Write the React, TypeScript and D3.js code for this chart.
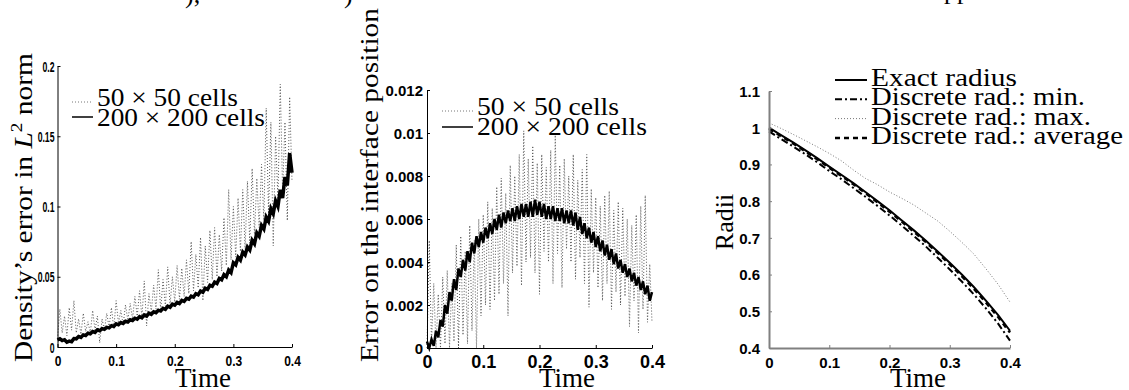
import React, { useRef, useEffect } from "react";
import * as d3 from "d3";

// sampling steps of the stored runs (time between two stored values)
const fineStep = 0.004;
const radStep = 0.02;

// density error in L2 norm
const densityCoarse = [
  0.006, 0.027, 0.010, 0.022, 0.008, 0.028, 0.012, 0.033, 0.010, 0.020,
  0.009, 0.024, 0.011, 0.018, 0.010, 0.026, 0.012, 0.022, 0.003, 0.020,
  0.012, 0.024, 0.014, 0.028, 0.013, 0.033, 0.017, 0.026, 0.016, 0.030,
  0.019, 0.031, 0.020, 0.036, 0.022, 0.040, 0.021, 0.047, 0.015, 0.038,
  0.025, 0.044, 0.027, 0.055, 0.026, 0.048, 0.029, 0.057, 0.030, 0.050,
  0.032, 0.058, 0.034, 0.056, 0.036, 0.062, 0.038, 0.075, 0.040, 0.066,
  0.042, 0.078, 0.033, 0.072, 0.046, 0.083, 0.048, 0.085, 0.050, 0.080,
  0.054, 0.092, 0.058, 0.112, 0.062, 0.100, 0.064, 0.106, 0.068, 0.112,
  0.070, 0.118, 0.074, 0.127, 0.080, 0.120, 0.085, 0.130, 0.090, 0.170,
  0.095, 0.160, 0.072, 0.150, 0.105, 0.187, 0.110, 0.160, 0.090, 0.178,
  0.118,
];
const densityFine = [
  0.0050, 0.0058, 0.0046, 0.0052, 0.0034, 0.0042, 0.0038, 0.0060, 0.0058, 0.0075,
  0.0068, 0.0086, 0.0082, 0.0098, 0.0094, 0.0110, 0.0104, 0.0122, 0.0116, 0.0131,
  0.0126, 0.0140, 0.0136, 0.0152, 0.0146, 0.0165, 0.0158, 0.0174, 0.0168, 0.0183,
  0.0178, 0.0194, 0.0188, 0.0205, 0.0198, 0.0216, 0.0208, 0.0228, 0.0220, 0.0240,
  0.0232, 0.0250, 0.0244, 0.0262, 0.0256, 0.0275, 0.0268, 0.0290, 0.0283, 0.0305,
  0.0298, 0.0318, 0.0310, 0.0332, 0.0325, 0.0346, 0.0340, 0.0362, 0.0355, 0.0380,
  0.0372, 0.0398, 0.0390, 0.0418, 0.0410, 0.0440, 0.0432, 0.0462, 0.0452, 0.0488,
  0.0478, 0.0515, 0.0500, 0.0548, 0.0530, 0.0600, 0.0585, 0.0638, 0.0618, 0.0675,
  0.0655, 0.0712, 0.0690, 0.0760, 0.0735, 0.0812, 0.0788, 0.0865, 0.0840, 0.0925,
  0.0895, 0.0985, 0.0950, 0.1040, 0.1000, 0.1120, 0.1060, 0.1210, 0.1150, 0.1380,
  0.1240,
];

// error on the interface position
const interfaceCoarse = [
  0.0000, 0.0050, 0.0002, 0.0030, 0.0000, 0.0025, 0.0000, 0.0033, 0.0002, 0.0036,
  0.0000, 0.0030, 0.0003, 0.0048, 0.0000, 0.0052, 0.0006, 0.0045, 0.0002, 0.0057,
  0.0008, 0.0050, 0.0000, 0.0060, 0.0015, 0.0062, 0.0020, 0.0068, 0.0018, 0.0065,
  0.0022, 0.0075, 0.0025, 0.0079, 0.0030, 0.0072, 0.0015, 0.0085, 0.0035, 0.0080,
  0.0038, 0.0090, 0.0029, 0.0101, 0.0040, 0.0088, 0.0042, 0.0094, 0.0035, 0.0086,
  0.0025, 0.0090, 0.0045, 0.0084, 0.0040, 0.0092, 0.0030, 0.0099, 0.0044, 0.0085,
  0.0028, 0.0088, 0.0046, 0.0080, 0.0040, 0.0090, 0.0032, 0.0078, 0.0042, 0.0083,
  0.0030, 0.0090, 0.0019, 0.0074, 0.0035, 0.0070, 0.0028, 0.0066, 0.0022, 0.0071,
  0.0030, 0.0073, 0.0018, 0.0064, 0.0026, 0.0068, 0.0020, 0.0065, 0.0024, 0.0060,
  0.0010, 0.0057, 0.0022, 0.0062, 0.0007, 0.0066, 0.0018, 0.0071, 0.0012, 0.0039,
  0.0012,
];
const interfaceFine = [
  0.0003, 0.0000, 0.0004, 0.0001, 0.0008, 0.0005, 0.0013, 0.0010, 0.0020, 0.0016,
  0.0026, 0.0022, 0.0032, 0.0027, 0.0037, 0.0033, 0.0041, 0.0036, 0.0045, 0.0040,
  0.0049, 0.0044, 0.0052, 0.0047, 0.0054, 0.0049, 0.0056, 0.0051, 0.0058, 0.0053,
  0.0060, 0.0055, 0.0062, 0.0056, 0.0063, 0.0058, 0.0064, 0.0059, 0.0065, 0.0059,
  0.0066, 0.0060, 0.0067, 0.0061, 0.0067, 0.0061, 0.0068, 0.0061, 0.0069, 0.0062,
  0.0068, 0.0061, 0.0067, 0.0060, 0.0066, 0.0060, 0.0066, 0.0059, 0.0065, 0.0059,
  0.0065, 0.0058, 0.0064, 0.0058, 0.0064, 0.0057, 0.0063, 0.0055, 0.0061, 0.0053,
  0.0058, 0.0051, 0.0056, 0.0049, 0.0054, 0.0047, 0.0052, 0.0045, 0.0050, 0.0043,
  0.0048, 0.0041, 0.0046, 0.0039, 0.0044, 0.0037, 0.0041, 0.0035, 0.0039, 0.0033,
  0.0037, 0.0031, 0.0035, 0.0029, 0.0033, 0.0027, 0.0031, 0.0025, 0.0029, 0.0022,
  0.0026,
];

// radii
const radiusExact = [1.0, 0.98, 0.96, 0.939, 0.917, 0.894, 0.872, 0.849, 0.825, 0.8, 0.775, 0.748, 0.721, 0.693, 0.663, 0.632, 0.6, 0.566, 0.529, 0.49, 0.447];
const radiusMin = [0.99, 0.969, 0.949, 0.928, 0.906, 0.882, 0.86, 0.836, 0.812, 0.787, 0.761, 0.734, 0.706, 0.677, 0.646, 0.614, 0.581, 0.546, 0.508, 0.467, 0.42];
const radiusMax = [1.013, 0.998, 0.982, 0.965, 0.948, 0.93, 0.91, 0.885, 0.862, 0.845, 0.825, 0.808, 0.79, 0.768, 0.746, 0.718, 0.688, 0.656, 0.616, 0.574, 0.525];
const radiusAvg = [0.997, 0.977, 0.957, 0.936, 0.914, 0.891, 0.869, 0.846, 0.822, 0.797, 0.771, 0.745, 0.717, 0.689, 0.659, 0.628, 0.596, 0.561, 0.524, 0.485, 0.442];

const timeTicks = [0, 0.1, 0.2, 0.3, 0.4];
const densityTicks = [0, 0.05, 0.1, 0.15, 0.2];
const interfaceTicks = [0, 0.002, 0.004, 0.006, 0.008, 0.01, 0.012];
const radiusTicks = [0.4, 0.5, 0.6, 0.7, 0.8, 0.9, 1, 1.1];

const gridLabels = ["50 \u00d7 50 cells", "200 \u00d7 200 cells"];
const radiusLabels = ["Exact radius", "Discrete rad.: min.", "Discrete rad.: max.", "Discrete rad.: average"];

const serif = "'Liberation Serif', 'Times New Roman', serif";
const sans = "'Liberation Sans', Arial, Helvetica, sans-serif";

function drawAxes(svg, x, y, o) {
  const g = svg.append("g");
  const xa = g
    .append("g")
    .attr("transform", `translate(0,${y.range()[0]})`)
    .call(d3.axisBottom(x).tickValues(timeTicks).tickSizeInner(-3).tickSizeOuter(0).tickFormat((d) => String(d)));
  const ya = g
    .append("g")
    .attr("transform", `translate(${x.range()[0]},0)`)
    .call(d3.axisLeft(y).tickValues(o.yTicks).tickSizeInner(-3).tickSizeOuter(0).tickFormat((d) => String(d)));

  g.selectAll(".domain").attr("stroke", o.axisColor).attr("stroke-width", o.axisWidth);
  g.selectAll(".tick line").attr("stroke", o.axisColor);
  g.selectAll("text").attr("font-family", sans).attr("font-weight", "bold").attr("fill", "#000");

  xa.selectAll("text")
    .attr("font-size", o.xFont)
    .attr("y", 0)
    .attr("dy", 0)
    .attr("transform", `translate(0,${o.xBase}) scale(${o.xScale},1)`);
  ya.selectAll("text")
    .attr("font-size", o.yFont)
    .attr("x", 0)
    .attr("dy", "0.36em")
    .attr("transform", `translate(${-o.yPad},0) scale(${o.yScale},1)`);
}

// legend rows: sample line at lineY, text baseline at textY
function drawLegend(svg, items, o) {
  items.forEach((it) => {
    svg
      .append("line")
      .attr("x1", o.x0)
      .attr("x2", o.x1)
      .attr("y1", it.lineY)
      .attr("y2", it.lineY)
      .attr("stroke", it.color)
      .attr("stroke-width", it.width)
      .attr("stroke-dasharray", it.dash);
    svg
      .append("text")
      .attr("x", o.tx)
      .attr("y", it.textY)
      .attr("font-family", serif)
      .attr("font-size", o.size)
      .attr("textLength", it.len)
      .attr("lengthAdjust", "spacingAndGlyphs")
      .text(it.label);
  });
}

const App = () => {
  const svgRef = useRef(null);

  useEffect(() => {
    const svg = d3.select(svgRef.current);
    svg.selectAll("*").remove();

    // bits of the caption above, clipped by the page edge
    svg.append("text").attr("x", 185).attr("y", 3).attr("font-family", serif).attr("font-size", 26).text("),");
    svg.append("text").attr("x", 344).attr("y", 3).attr("font-family", serif).attr("font-size", 26).text(")");
    svg.append("text").attr("x", 944).attr("y", -1).attr("font-family", serif).attr("font-size", 26).text("pp");

    const path = (x, y, step) =>
      d3
        .line()
        .x((_, i) => x(i * step))
        .y((d) => y(d));

    // ---------- panel 1: density error ----------
    const x1 = d3.scaleLinear().domain([0, 0.4]).range([57.5, 292]);
    const y1 = d3.scaleLinear().domain([0, 0.2]).range([347, 66]);
    svg.append("path").attr("d", path(x1, y1, fineStep)(densityCoarse)).attr("fill", "none")
      .attr("stroke", "#555").attr("stroke-width", 1).attr("stroke-dasharray", "1,2");
    svg.append("path").attr("d", path(x1, y1, fineStep)(densityFine)).attr("fill", "none")
      .attr("stroke", "#000").attr("stroke-width", 3.5);
    drawAxes(svg, x1, y1, {
      yTicks: densityTicks, axisColor: "#000", axisWidth: 1,
      xFont: 15, xBase: 19, xScale: 0.8, yFont: 14, yPad: 3, yScale: 0.62,
    });
    drawLegend(svg, [
      { label: gridLabels[0], color: "#777", width: 1, dash: "1,2", len: 141, lineY: 102, textY: 106 },
      { label: gridLabels[1], color: "#000", width: 1.5, dash: null, len: 168, lineY: 117, textY: 126 },
    ], { x0: 72, x1: 93, tx: 97, size: 25 });
    svg.append("text")
      .attr("transform", "translate(32,362) rotate(-90)")
      .attr("font-family", serif).attr("font-size", 26)
      .attr("textLength", 309).attr("lengthAdjust", "spacingAndGlyphs")
      .call((t) => {
        t.append("tspan").text("Density\u2019s error in ");
        t.append("tspan").attr("font-style", "italic").text("L");
        t.append("tspan").attr("dy", -10).attr("font-size", 17).text("2");
        t.append("tspan").attr("dy", 10).text(" norm");
      });
    svg.append("text").attr("x", 203).attr("y", 387).attr("text-anchor", "middle")
      .attr("font-family", serif).attr("font-size", 27).text("Time");

    // ---------- panel 2: interface error ----------
    const x2 = d3.scaleLinear().domain([0, 0.4]).range([427, 652]);
    const y2 = d3.scaleLinear().domain([0, 0.012]).range([348, 90]);
    svg.append("path").attr("d", path(x2, y2, fineStep)(interfaceCoarse)).attr("fill", "none")
      .attr("stroke", "#555").attr("stroke-width", 1).attr("stroke-dasharray", "1,2");
    svg.append("path").attr("d", path(x2, y2, fineStep)(interfaceFine)).attr("fill", "none")
      .attr("stroke", "#000").attr("stroke-width", 2.5);
    drawAxes(svg, x2, y2, {
      yTicks: interfaceTicks, axisColor: "#000", axisWidth: 1,
      xFont: 18, xBase: 20, xScale: 1, yFont: 15, yPad: 4, yScale: 1,
    });
    drawLegend(svg, [
      { label: gridLabels[0], color: "#777", width: 1, dash: "1,2", len: 142, lineY: 111, textY: 115 },
      { label: gridLabels[1], color: "#000", width: 1.5, dash: null, len: 170, lineY: 127, textY: 135 },
    ], { x0: 442, x1: 473, tx: 477, size: 26 });
    svg.append("text")
      .attr("transform", "translate(378,362) rotate(-90)")
      .attr("font-family", serif).attr("font-size", 26)
      .attr("textLength", 354).attr("lengthAdjust", "spacingAndGlyphs")
      .text("Error on the interface position");
    svg.append("text").attr("x", 567).attr("y", 387).attr("text-anchor", "middle")
      .attr("font-family", serif).attr("font-size", 27).text("Time");

    // ---------- panel 3: radii ----------
    const x3 = d3.scaleLinear().domain([0, 0.4]).range([769, 1010]);
    const y3 = d3.scaleLinear().domain([0.4, 1.1]).range([348, 91]);
    const radiusStyles = [
      { data: radiusExact, color: "#000", width: 2, dash: null },
      { data: radiusMin, color: "#000", width: 2, dash: "7,3,2,3" },
      { data: radiusMax, color: "#777", width: 1, dash: "1,2" },
      { data: radiusAvg, color: "#000", width: 2.5, dash: "5,4" },
    ];
    radiusStyles.forEach((s) => {
      svg.append("path").attr("d", path(x3, y3, radStep)(s.data)).attr("fill", "none")
        .attr("stroke", s.color).attr("stroke-width", s.width).attr("stroke-dasharray", s.dash);
    });
    drawAxes(svg, x3, y3, {
      yTicks: radiusTicks, axisColor: "#808080", axisWidth: 2,
      xFont: 15, xBase: 20, xScale: 1, yFont: 15, yPad: 9, yScale: 1,
    });
    const radiusLens = [146, 214, 220, 252];
    drawLegend(svg, radiusStyles.map((s, i) => ({
      label: radiusLabels[i], color: s.color, width: s.width, dash: s.dash, len: radiusLens[i],
      lineY: 80 + i * 19.3, textY: 86 + i * 19.3,
    })), { x0: 835, x1: 867, tx: 871, size: 26 });
    svg.append("text")
      .attr("transform", "translate(733,222) rotate(-90)")
      .attr("text-anchor", "middle")
      .attr("font-family", serif).attr("font-size", 26)
      .text("Radii");
    svg.append("text").attr("x", 918).attr("y", 387).attr("text-anchor", "middle")
      .attr("font-family", serif).attr("font-size", 27).text("Time");
  }, []);

  return (
    <svg
      ref={svgRef}
      width={1129}
      height={390}
      style={{ position: "absolute", left: 0, top: 0, background: "#fff" }}
    ></svg>
  );
};

export default App;
